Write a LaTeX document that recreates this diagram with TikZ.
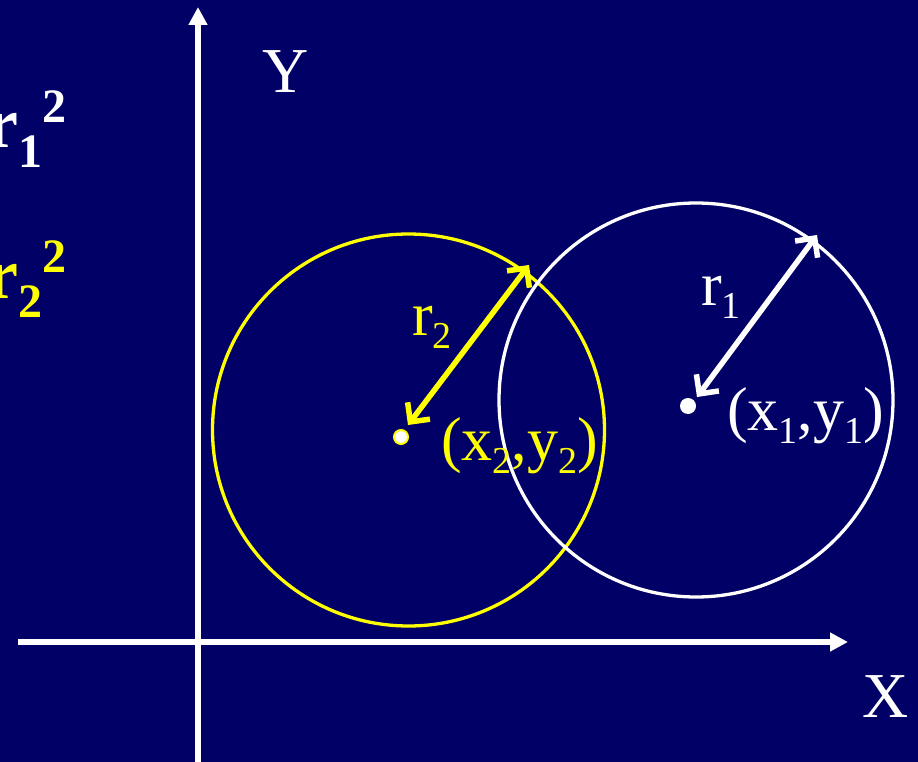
\documentclass[tikz,border=0pt]{standalone}
\usepackage{fontspec}
\setmainfont{Liberation Serif}
\usetikzlibrary{arrows.meta}
\definecolor{navy}{RGB}{0,0,102}
\definecolor{yel}{RGB}{255,255,0}
\newcommand\sbsc[1]{\raisebox{-0.22em}{\fontsize{38}{38}\selectfont #1}}
\newcommand\bsb[1]{\raisebox{-0.27em}{\fontsize{48}{48}\selectfont\bfseries #1}}
\newcommand\bsp[1]{\raisebox{0.36em}{\fontsize{48}{48}\selectfont\bfseries #1}}
\begin{document}
\begin{tikzpicture}[x=1pt,y=-1pt,
  lbl/.style={inner sep=0pt,anchor=base west,font=\fontsize{62}{62}\selectfont},
  axis/.style={white,line width=5.5pt,-{Triangle[length=18pt,width=18pt]}},
  circ/.style={line width=3.3pt},
  rad/.style={line width=5.5pt,{Straight Barb[length=14pt,width=28pt]}-{Straight Barb[length=14pt,width=28pt]}}]
\fill[navy] (0,0) rectangle (918,762);
\useasboundingbox (0,0) rectangle (918,762);
% axes
\coordinate (ybot) at (198,762);
\coordinate (ytop) at (198,7);
\coordinate (xl) at (18,642);
\coordinate (xr) at (848,642);
\draw[axis] (ybot) -- (ytop);
\draw[axis] (xl) -- (xr);
\node[lbl,text=white,font=\fontsize{64}{64}\selectfont] (Y) at (262,93) {Y};
\node[lbl,text=white,font=\fontsize{64}{64}\selectfont] (X) at (862,717) {X};
% circles
\draw[circ,yel] (408.5,430) circle[radius=196];
\draw[circ,white] (696,400) circle[radius=197];
% radii
\coordinate (a2) at (408,425);
\coordinate (b2) at (529,265);
\coordinate (a1) at (697,397);
\coordinate (b1) at (817,235);
\draw[rad,yel] (a2) -- (b2);
\draw[rad,white] (a1) -- (b1);
% centres
\node[circle,fill=white,draw=yel,line width=2pt,minimum size=14pt,inner sep=0pt] (p2) at (401,437) {};
\node[circle,fill=white,minimum size=16pt,inner sep=0pt] (p1) at (688,406) {};
% labels
\node[lbl,text=yel] (r2) at (412,335) {r\sbsc{2}};
\node[lbl,text=white] (r1) at (701,305) {r\sbsc{1}};
\node[lbl,text=yel] (c2) at (441,460) {(x\sbsc{2},y\sbsc{2})};
\node[lbl,text=white] (c1) at (727,430) {(x\sbsc{1},y\sbsc{1})};
% left formulas (cut off at the edge, as in the reference)
\node[inner sep=0pt,anchor=base east,text=white,font=\fontsize{72}{72}\selectfont\bfseries] (f1) at (67,148) {r\bsb{1}\bsp{2}};
\node[inner sep=0pt,anchor=base east,text=yel,font=\fontsize{72}{72}\selectfont\bfseries] (f2) at (67,298) {r\bsb{2}\bsp{2}};
\end{tikzpicture}
\end{document}
